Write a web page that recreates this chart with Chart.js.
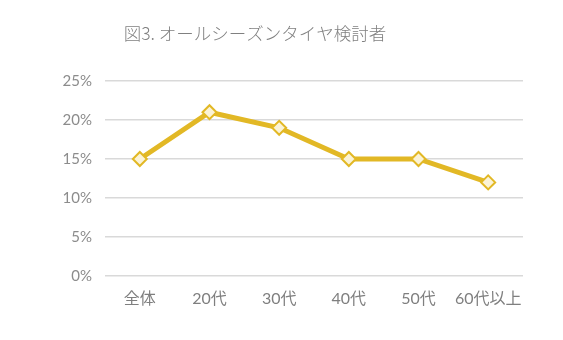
<!DOCTYPE html>
<html><head><meta charset="utf-8">
<script src="https://cdn.jsdelivr.net/npm/chart.js@4"></script>
<style>html,body{margin:0;padding:0;background:#fff}#w{width:563px;height:340px}</style>
</head><body><div id="w"><canvas id="c" width="563" height="340"></canvas></div>
<script>
const titleText = '図3. オールシーズンタイヤ検討者';
const categories = ['全体', '20代', '30代', '40代', '50代', '60代以上'];
const values = [15, 21, 19, 15, 15, 12];
const yTicks = [0, 5, 10, 15, 20, 25];

const FONT = "Lato, 'Noto Sans CJK JP', sans-serif";
const titlePlugin = {
  id: 'customTitle',
  afterDraw(chart) {
    const ctx = chart.ctx;
    ctx.save();
    ctx.font = "300 17.5px 'Noto Sans CJK JP', Lato, sans-serif";
    ctx.fillStyle = '#808080';
    ctx.textAlign = 'center';
    ctx.textBaseline = 'middle';
    ctx.fillText(titleText, 255, 33);
    ctx.restore();
  }
};

new Chart(document.getElementById('c'), {
  type: 'line',
  data: {
    labels: categories,
    datasets: [{
      data: values,
      borderColor: '#E2B825',
      borderWidth: 5,
      pointStyle: 'rectRot',
      pointRadius: 7,
      pointHoverRadius: 7,
      pointBackgroundColor: '#FBF3D6',
      pointBorderColor: '#E2B825',
      pointBorderWidth: 2,
      tension: 0
    }]
  },
  options: {
    responsive: false,
    animation: false,
    layout: { padding: { top: 81, right: 40, left: 0, bottom: 0 } },
    plugins: { legend: { display: false }, title: { display: false }, tooltip: { enabled: false } },
    scales: {
      x: {
        offset: true,
        grid: { display: false, drawTicks: false },
        border: { display: false },
        ticks: { color: '#7f7f7f', font: { family: FONT, size: 16 }, padding: 13, maxRotation: 0 },
        afterFit(s) { s.height = 64; }
      },
      y: {
        min: 0, max: 25,
        grid: { color: '#d9d9d9', lineWidth: 1.5, drawTicks: false },
        border: { display: false },
        afterBuildTicks(s) { s.ticks = yTicks.map(v => ({ value: v })); },
        ticks: { color: '#8c8c8c', font: { family: FONT, size: 15 }, padding: 13, callback: v => v + '%' },
        afterFit(s) { s.width = 105; }
      }
    }
  },
  plugins: [titlePlugin]
});
</script></body></html>
